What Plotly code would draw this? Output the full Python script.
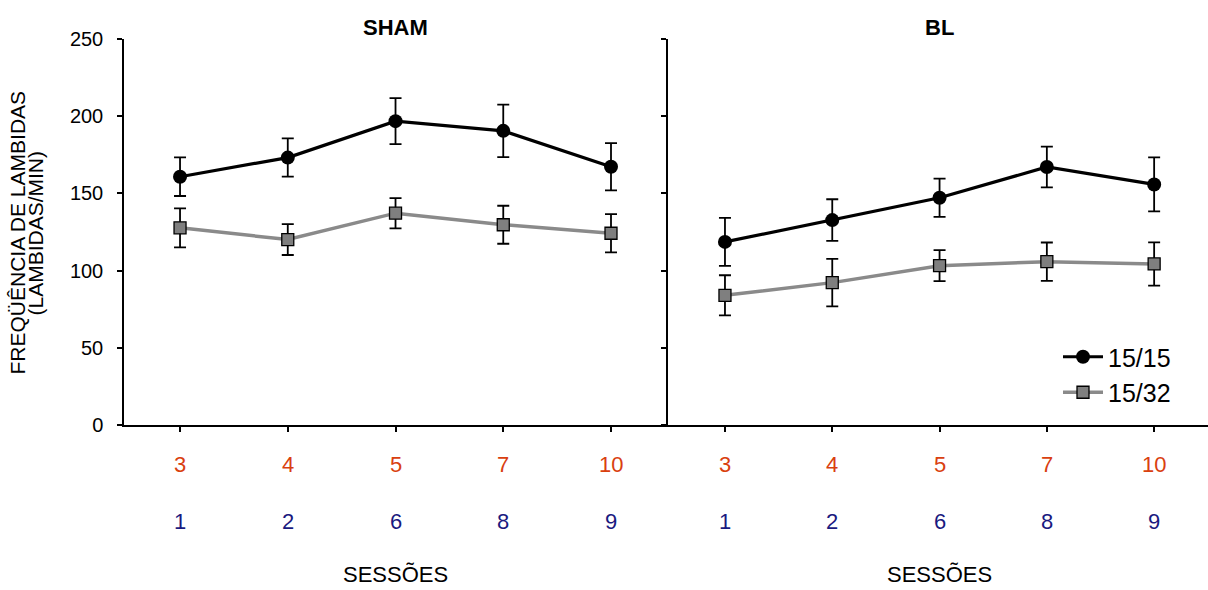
import plotly.graph_objects as go

# Session labels under each point (two groups of sessions)
sessions_top = ["3", "4", "5", "7", "10"]
sessions_bottom = ["1", "2", "6", "8", "9"]
positions = [0, 1, 2, 3, 4]

# SHAM group: mean licks/min and SEM
sham_1515 = [160.8, 173.2, 196.8, 190.5, 167.3]
sham_1515_err = [12.5, 12.4, 14.9, 17.0, 15.3]
sham_1532 = [127.7, 120.1, 137.2, 129.7, 124.2]
sham_1532_err = [12.6, 10.0, 9.8, 12.3, 12.4]

# BL group
bl_1515 = [118.6, 132.7, 147.2, 167.1, 155.8]
bl_1515_err = [15.6, 13.5, 12.4, 13.2, 17.5]
bl_1532 = [84.0, 92.2, 103.2, 105.8, 104.3]
bl_1532_err = [13.0, 15.4, 10.0, 12.4, 14.0]

y_ticks = [0, 50, 100, 150, 200, 250]

FONT = "Liberation Sans, Arial, Helvetica, sans-serif"
RED = "#D9400F"
NAVY = "#1A1A80"
GRAY_LINE = "#8A8A8A"
GRAY_FILL = "#7F7F7F"

W, H = 1208, 590
fig = go.Figure()


def add_series(xa, ya, y, err, name, show):
    if name == "15/15":
        line = dict(color="black", width=3.2)
        marker = dict(symbol="circle", size=14, color="black",
                      line=dict(color="black", width=0))
    else:
        line = dict(color=GRAY_LINE, width=3.5)
        marker = dict(symbol="square", size=12, color=GRAY_FILL,
                      line=dict(color="black", width=1.3))
    fig.add_trace(go.Scatter(
        x=positions, y=y, xaxis=xa, yaxis=ya, name=name,
        mode="lines+markers", line=line, marker=marker,
        error_y=dict(type="data", array=err, visible=True,
                     color="black", thickness=1.8, width=6),
        showlegend=show, cliponaxis=False,
    ))


# draw gray first so the black series sits on top
add_series("x", "y", sham_1532, sham_1532_err, "15/32", False)
add_series("x", "y", sham_1515, sham_1515_err, "15/15", False)
add_series("x2", "y2", bl_1532, bl_1532_err, "15/32", True)
add_series("x2", "y2", bl_1515, bl_1515_err, "15/15", True)

y_dom = [1 - 425 / H, 1 - 39 / H]
left_dom = [124 / W, 668 / W]
right_dom = [668 / W, 1.0]

axis_common = dict(showgrid=False, zeroline=False, showline=True,
                   linecolor="black", linewidth=1.5,
                   ticks="outside", ticklen=5, tickwidth=1.5,
                   tickcolor="black", automargin=False)

fig.update_layout(
    template="none",
    width=W, height=H,
    margin=dict(l=0, r=0, t=0, b=0, pad=0, autoexpand=False),
    paper_bgcolor="white", plot_bgcolor="white",
    font=dict(family=FONT, color="black"),
    xaxis=dict(domain=left_dom, range=[-0.52, 4.529], anchor="y",
               tickvals=positions, showticklabels=False, **axis_common),
    yaxis=dict(domain=y_dom, range=[0, 250], anchor="x",
               tickvals=y_ticks, tickfont=dict(size=20, family=FONT),
               ticklabelstandoff=10, **axis_common),
    xaxis2=dict(domain=right_dom, range=[-0.531, 4.502], anchor="y2",
                tickvals=positions, showticklabels=False, **axis_common),
    yaxis2=dict(domain=y_dom, range=[0, 250], anchor="x2",
                tickvals=y_ticks, showticklabels=False, **axis_common),
    legend=dict(x=1058 / W, y=1 - 334 / H, xanchor="left", yanchor="top",
                font=dict(size=25, family=FONT), bgcolor="rgba(0,0,0,0)",
                traceorder="reversed", itemwidth=40, tracegroupgap=0),
)

annotations = []


def label(text, xref, x, ypix, size, color, bold=False):
    annotations.append(dict(
        text="<b>" + text + "</b>" if bold else text,
        xref=xref, yref="paper", x=x, y=1 - ypix / H,
        xanchor="center", yanchor="middle", showarrow=False,
        font=dict(size=size, family=FONT, color=color)))


for xref, title in (("x", "SHAM"), ("x2", "BL")):
    # panel title
    label(title, xref, 2, 27, 22, "black", bold=True)
    # two rows of session numbers under each tick
    for p, t_top, t_bot in zip(positions, sessions_top, sessions_bottom):
        label(t_top, xref, p, 464, 22, RED)
        label(t_bot, xref, p, 521, 22, NAVY)
    label("SESSÕES", xref, 2, 574, 22, "black")

# y-axis title, two rotated lines
for xpix, line in ((16.5, "FREQÜÊNCIA DE LAMBIDAS"), (34.5, "(LAMBIDAS/MIN)")):
    annotations.append(dict(text=line, xref="paper", yref="paper",
                            x=xpix / W, y=1 - 233 / H, textangle=-90,
                            xanchor="center", yanchor="middle",
                            showarrow=False,
                            font=dict(size=21, family=FONT, color="black")))

fig.update_layout(annotations=annotations)

fig.write_html("out.html")
